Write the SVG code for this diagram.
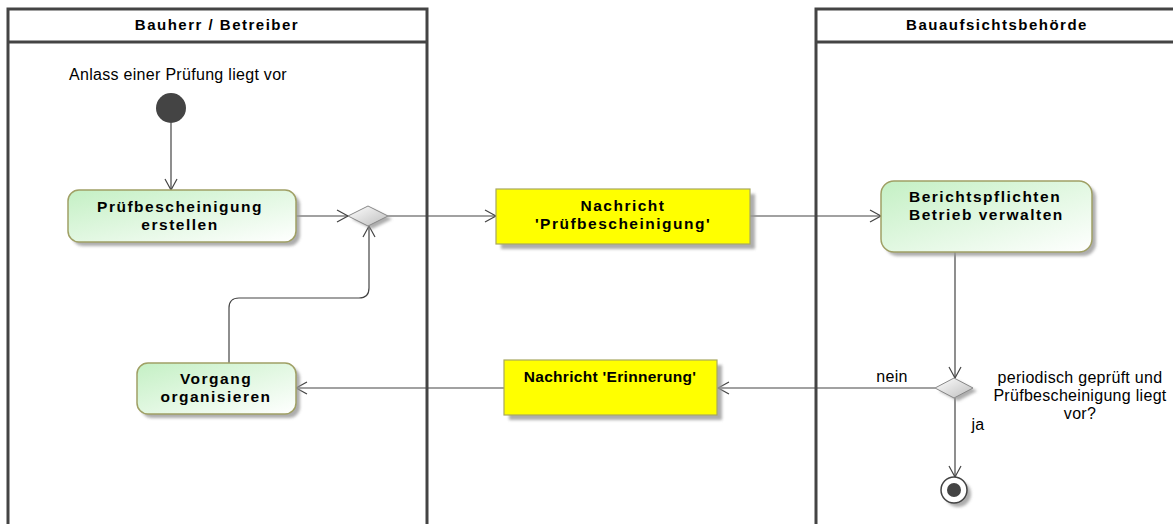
<svg xmlns="http://www.w3.org/2000/svg" width="1173" height="524" viewBox="0 0 1173 524">
<defs>
<linearGradient id="gAct" x1="0" y1="0" x2="1" y2="1">
<stop offset="0" stop-color="#c4f0c4"/>
<stop offset="1" stop-color="#ffffff"/>
</linearGradient>
<linearGradient id="gDia" x1="0" y1="0" x2="1" y2="1">
<stop offset="0" stop-color="#ffffff"/>
<stop offset="1" stop-color="#bdbdbd"/>
</linearGradient>
<filter id="sh" x="-20%" y="-20%" width="150%" height="150%">
<feGaussianBlur stdDeviation="1.5"/>
</filter>
<marker id="arr" markerWidth="14" markerHeight="14" refX="12" refY="7" orient="auto" markerUnits="userSpaceOnUse">
<path d="M1,1 L12,7 L1,13" fill="none" stroke="#444" stroke-width="1.2"/>
</marker>
</defs>
<style>
.lane{fill:none;stroke:#444;stroke-width:3}
.lt{font-family:"Liberation Sans",Arial,sans-serif;font-weight:bold;font-size:15px;letter-spacing:1.5px;fill:#000;text-anchor:middle}
.bt{font-family:"Liberation Sans",Arial,sans-serif;font-weight:bold;font-size:15.5px;letter-spacing:1.5px;fill:#000;text-anchor:middle}
.nt{font-family:"Liberation Sans",Arial,sans-serif;font-size:16px;letter-spacing:0.3px;fill:#000;text-anchor:middle}
.act{fill:url(#gAct);stroke:#a0a065;stroke-width:1.5}
.msg{fill:#ffff00;stroke:#a8a860;stroke-width:1.2}
.shd{fill:#999;filter:url(#sh);opacity:0.8}
.dia{fill:url(#gDia);stroke:#888;stroke-width:1}
.con{fill:none;stroke:#444;stroke-width:1.2}
</style>
<rect x="0" y="0" width="1173" height="524" fill="#fff"/>
<g id="lane1">
<path class="lane" d="M8,524 V9 H427 V524"/>
<line class="lane" x1="8" y1="42" x2="427" y2="42"/>
<text class="lt" x="217" y="30">Bauherr / Betreiber</text>
</g>
<g id="lane2">
<path class="lane" d="M816,524 V9 H1175"/>
<line class="lane" x1="816" y1="42" x2="1175" y2="42"/>
<text class="lt" x="997" y="30">Bauaufsichtsbehörde</text>
</g>
<g id="connectors">
<line class="con" x1="171" y1="123" x2="171" y2="190" marker-end="url(#arr)"/>
<line class="con" x1="296" y1="216" x2="348" y2="216" marker-end="url(#arr)"/>
<line class="con" x1="388" y1="216" x2="496" y2="216" marker-end="url(#arr)"/>
<line class="con" x1="750" y1="216" x2="881" y2="216" marker-end="url(#arr)"/>
<line class="con" x1="955" y1="252" x2="955" y2="378" marker-end="url(#arr)"/>
<line class="con" x1="935" y1="388" x2="718" y2="388" marker-end="url(#arr)"/>
<line class="con" x1="504" y1="388" x2="296" y2="388" marker-end="url(#arr)"/>
<path class="con" d="M229,363 V308 Q229,298 239,298 H359 Q369,298 369,288 V226" marker-end="url(#arr)"/>
<line class="con" x1="955" y1="398" x2="955" y2="477" marker-end="url(#arr)"/>
<text class="nt" x="892" y="382">nein</text>
<text class="nt" x="978" y="430">ja</text>
</g>
<g id="start">
<text class="nt" x="178" y="80">Anlass einer Prüfung liegt vor</text>
<circle cx="171" cy="108" r="15" fill="#444"/>
</g>
<g id="act1">
<rect class="shd" x="72" y="194" width="228" height="52" rx="11"/>
<rect class="act" x="68" y="190" width="228" height="52" rx="11"/>
<text class="bt" x="180" y="212">Prüfbescheinigung</text>
<text class="bt" x="180" y="230">erstellen</text>
</g>
<g id="merge">
<polygon class="shd" points="352,219 372,209 392,219 372,229"/>
<polygon class="dia" points="348,216 368,206 388,216 368,226"/>
</g>
<g id="msg1">
<rect class="shd" x="501" y="194" width="254" height="55"/>
<rect class="msg" x="496" y="189" width="254" height="55"/>
<text class="bt" x="623" y="211">Nachricht</text>
<text class="bt" x="623" y="229">'Prüfbescheinigung'</text>
</g>
<g id="act2">
<rect class="shd" x="885" y="185" width="211" height="71" rx="13"/>
<rect class="act" x="881" y="181" width="211" height="71" rx="13"/>
<text class="bt" x="909" y="202" style="text-anchor:start">Berichtspflichten</text>
<text class="bt" x="909" y="220" style="text-anchor:start">Betrieb verwalten</text>
</g>
<g id="decision">
<polygon class="shd" points="939,391 958,381 977,391 958,401"/>
<polygon class="dia" points="935,388 954,378 973,388 954,398"/>
<text class="nt" x="1080" y="383">periodisch geprüft und</text>
<text class="nt" x="1080" y="401">Prüfbescheinigung liegt</text>
<text class="nt" x="1080" y="419">vor?</text>
</g>
<g id="msg2">
<rect class="shd" x="509" y="365" width="213" height="55"/>
<rect class="msg" x="504" y="360" width="213" height="55"/>
<text class="bt" x="610" y="382" style="letter-spacing:0.3px">Nachricht 'Erinnerung'</text>
</g>
<g id="act3">
<rect class="shd" x="141" y="367" width="159" height="51" rx="11"/>
<rect class="act" x="137" y="363" width="159" height="51" rx="11"/>
<text class="bt" x="216" y="384">Vorgang</text>
<text class="bt" x="216" y="402">organisieren</text>
</g>
<g id="end">
<circle class="shd" cx="958" cy="494" r="13"/>
<circle cx="954" cy="490" r="13" fill="#fff" stroke="#444" stroke-width="1.5"/>
<circle cx="954" cy="490" r="7" fill="#444"/>
</g>
</svg>
